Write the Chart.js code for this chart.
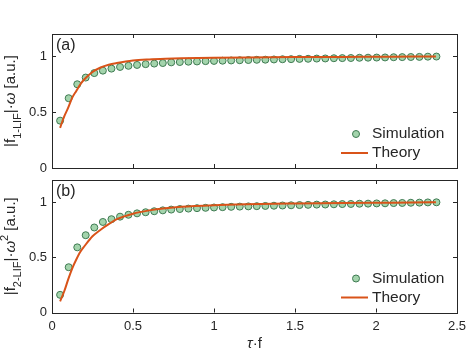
<!DOCTYPE html>
<html>
<head>
<meta charset="utf-8">
<script src="https://cdn.jsdelivr.net/npm/chart.js@4.4.1/dist/chart.umd.min.js"></script>
<style>
  html, body { margin: 0; padding: 0; background: #fff; }
  #wrap { position: relative; width: 467px; height: 351px; background: #fff; }
  canvas { position: absolute; left: 0; }
</style>
</head>
<body>
<div id="wrap">
  <canvas id="panelA" width="467" height="175" style="top:0px"></canvas>
  <canvas id="panelB" width="467" height="176" style="top:175px"></canvas>
</div>
<script>
// tau*f values of the simulation points
const simX = [0.050, 0.103, 0.156, 0.208, 0.261, 0.314, 0.367, 0.420, 0.472, 0.525,
              0.578, 0.631, 0.684, 0.736, 0.789, 0.842, 0.895, 0.948, 1.000, 1.053,
              1.106, 1.159, 1.212, 1.264, 1.317, 1.370, 1.423, 1.476, 1.528, 1.581,
              1.634, 1.687, 1.740, 1.792, 1.845, 1.898, 1.951, 2.004, 2.056, 2.109,
              2.162, 2.215, 2.268, 2.320, 2.373];
// panel (a) simulation |f1-LIF|*w
const simA = [0.424, 0.625, 0.750, 0.810, 0.850, 0.872, 0.890, 0.905, 0.915, 0.923,
              0.930, 0.935, 0.940, 0.946, 0.949, 0.952, 0.954, 0.957, 0.959, 0.961,
              0.963, 0.965, 0.967, 0.969, 0.970, 0.972, 0.974, 0.975, 0.977, 0.978,
              0.980, 0.981, 0.983, 0.984, 0.985, 0.987, 0.988, 0.989, 0.990, 0.992,
              0.993, 0.994, 0.995, 0.997, 0.998];
// panel (b) simulation |f2-LIF|*w^2
const simB = [0.160, 0.410, 0.590, 0.700, 0.770, 0.820, 0.845, 0.868, 0.885, 0.898,
              0.908, 0.917, 0.925, 0.932, 0.937, 0.941, 0.945, 0.948, 0.951, 0.954,
              0.957, 0.959, 0.961, 0.963, 0.965, 0.967, 0.969, 0.971, 0.973, 0.975,
              0.977, 0.978, 0.980, 0.982, 0.983, 0.985, 0.986, 0.988, 0.989, 0.991,
              0.992, 0.994, 0.995, 0.997, 0.998];

// theory curves
const theoryX = [0.05, 0.075, 0.1, 0.125, 0.15, 0.175, 0.2, 0.25, 0.3, 0.35, 0.4,
                 0.5, 0.6, 0.7, 0.8, 1.0, 1.2, 1.5, 1.8, 2.1, 2.37];
const theoryA = [0.36, 0.46, 0.54, 0.63, 0.69, 0.75, 0.795, 0.86, 0.90, 0.925, 0.94,
                 0.962, 0.972, 0.978, 0.982, 0.987, 0.99, 0.993, 0.995, 0.997, 0.998];
const theoryB = [0.10, 0.19, 0.30, 0.40, 0.48, 0.55, 0.60, 0.69, 0.75, 0.80, 0.845,
                 0.895, 0.925, 0.945, 0.958, 0.972, 0.98, 0.987, 0.992, 0.995, 0.998];

const xTicks = [0, 0.5, 1, 1.5, 2, 2.5];
const yTicks = [0, 0.5, 1];
const legendLabels = ["Simulation", "Theory"];

const FONT = "'Liberation Sans', Arial, Helvetica, sans-serif";
const INK = "#262626";
const SIM_FILL = "#a3d4ac";
const SIM_EDGE = "#3f7a52";
const LINE = "#d95319";

function pts(xs, ys) {
  return xs.map((x, i) => ({ x: x, y: ys[i] }));
}

// draw text made of pieces (sub/superscripts, italic), centred on (cx, cy)
function drawRich(ctx, segs, cx, cy, rot) {
  ctx.save();
  ctx.translate(cx, cy);
  if (rot) ctx.rotate(rot);
  let total = 0;
  segs.forEach(s => {
    ctx.font = (s.italic ? "italic " : "") + s.size + "px " + FONT;
    s.w = ctx.measureText(s.t).width;
    total += s.w;
  });
  let x = -total / 2;
  ctx.fillStyle = INK;
  ctx.textBaseline = "alphabetic";
  ctx.textAlign = "left";
  segs.forEach(s => {
    ctx.font = (s.italic ? "italic " : "") + s.size + "px " + FONT;
    ctx.fillText(s.t, x, s.dy || 0);
    x += s.w;
  });
  ctx.restore();
}

const framePlugin = {
  id: "frame",
  afterDraw(chart, args, o) {
    const ctx = chart.ctx;
    const a = chart.chartArea;
    const xs = chart.scales.x, ys = chart.scales.y;
    const tl = 4;
    ctx.save();
    ctx.strokeStyle = INK;
    ctx.lineWidth = 1;
    ctx.beginPath();
    xs.ticks.forEach(t => {
      const px = Math.round(xs.getPixelForValue(t.value)) + 0.5;
      ctx.moveTo(px, a.bottom); ctx.lineTo(px, a.bottom - tl);
      ctx.moveTo(px, a.top); ctx.lineTo(px, a.top + tl);
    });
    ys.ticks.forEach(t => {
      const py = Math.round(ys.getPixelForValue(t.value)) + 0.5;
      ctx.moveTo(a.left, py); ctx.lineTo(a.left + tl, py);
      ctx.moveTo(a.right, py); ctx.lineTo(a.right - tl, py);
    });
    ctx.stroke();
    ctx.strokeRect(Math.round(a.left) + 0.5, Math.round(a.top) + 0.5,
                   Math.round(a.right - a.left), Math.round(a.bottom - a.top));

    // panel tag
    ctx.fillStyle = INK;
    ctx.font = "16px " + FONT;
    ctx.textBaseline = "middle";
    ctx.fillText(o.tag, a.left + 4, a.top + 12);

    // legend in the lower right corner
    const sim = chart.data.datasets[0], th = chart.data.datasets[1];
    const yS = a.bottom - 34, yT = a.bottom - 15;
    ctx.beginPath();
    ctx.arc(a.right - 101, yS, 3.5, 0, Math.PI * 2);
    ctx.fillStyle = sim.pointBackgroundColor;
    ctx.fill();
    ctx.strokeStyle = sim.pointBorderColor;
    ctx.stroke();
    ctx.beginPath();
    ctx.strokeStyle = th.borderColor;
    ctx.lineWidth = 2;
    ctx.moveTo(a.right - 116, yT); ctx.lineTo(a.right - 89, yT);
    ctx.stroke();
    ctx.fillStyle = INK;
    ctx.font = "15.5px " + FONT;
    ctx.textBaseline = "middle";
    ctx.fillText(sim.label, a.right - 85, yS);
    ctx.fillText(th.label, a.right - 85, yT);

    // axis titles
    drawRich(ctx, o.yTitle, 15, (a.top + a.bottom) / 2, -Math.PI / 2);
    if (o.xTitle) {
      drawRich(ctx, o.xTitle, (a.left + a.right) / 2, chart.height - 3, 0);
    }
    ctx.restore();
  }
};

function makePanel(id, simY, thY, opt) {
  return new Chart(document.getElementById(id), {
    type: "scatter",
    data: {
      datasets: [
        {
          label: legendLabels[0],
          data: pts(simX, simY),
          pointRadius: 3.5,
          pointBackgroundColor: SIM_FILL,
          pointBorderColor: SIM_EDGE,
          pointBorderWidth: 1,
          showLine: false,
          order: 2
        },
        {
          label: legendLabels[1],
          data: pts(theoryX, thY),
          showLine: true,
          borderColor: LINE,
          borderWidth: 2,
          pointRadius: 0,
          cubicInterpolationMode: "monotone",
          order: 1
        }
      ]
    },
    options: {
      responsive: false,
      animation: false,
      devicePixelRatio: 1,
      layout: { padding: { top: opt.padTop, right: 10, left: 0, bottom: 0 } },
      plugins: {
        legend: { display: false },
        tooltip: { enabled: false },
        frame: opt
      },
      scales: {
        x: {
          type: "linear",
          min: 0,
          max: 2.5,
          afterBuildTicks: s => { s.ticks = xTicks.map(v => ({ value: v })); },
          afterFit: s => {
            s.height = opt.xHeight;
            s.paddingLeft = 0; s.paddingRight = 0;
          },
          grid: { display: false, drawTicks: false },
          border: { display: false },
          ticks: {
            display: opt.xLabels,
            padding: 6,
            color: INK,
            font: { family: FONT, size: 13 },
            maxRotation: 0,
            callback: v => String(v)
          }
        },
        y: {
          min: 0,
          max: 1.2,
          afterBuildTicks: s => { s.ticks = yTicks.map(v => ({ value: v })); },
          afterFit: s => {
            s.width = 52;
            s.paddingTop = 0; s.paddingBottom = 0;
          },
          grid: { display: false, drawTicks: false },
          border: { display: false },
          ticks: {
            padding: 5,
            color: INK,
            font: { family: FONT, size: 13 },
            callback: v => String(v)
          }
        }
      }
    },
    plugins: [framePlugin]
  });
}

makePanel("panelA", simA, theoryA, {
  tag: "(a)",
  padTop: 34,
  xHeight: 7,
  xLabels: false,
  yTitle: [
    { t: "|f", size: 15 },
    { t: "1-LIF", size: 11, dy: 6 },
    { t: "|\u00b7", size: 15 },
    { t: "\u03c9", size: 15, italic: true },
    { t: " [a.u.]", size: 15 }
  ]
});

makePanel("panelB", simB, theoryB, {
  tag: "(b)",
  padTop: 3,
  xHeight: 38.5,
  xLabels: true,
  yTitle: [
    { t: "|f", size: 15 },
    { t: "2-LIF", size: 11, dy: 6 },
    { t: "|\u00b7", size: 15 },
    { t: "\u03c9", size: 15, italic: true },
    { t: "2", size: 11, dy: -7 },
    { t: " [a.u.]", size: 15 }
  ],
  xTitle: [
    { t: "\u03c4", size: 15, italic: true },
    { t: "\u00b7f", size: 15 }
  ]
});
</script>
</body>
</html>
